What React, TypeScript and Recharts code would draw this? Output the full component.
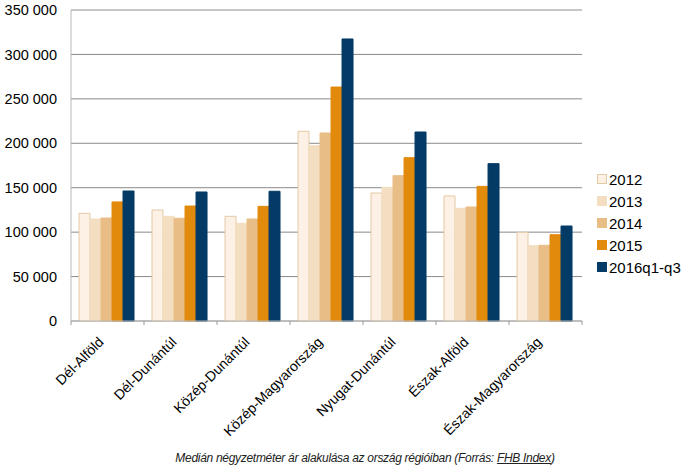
import React from "react";
import { BarChart, Bar, XAxis, YAxis, CartesianGrid, ReferenceLine } from "recharts";

const regions = [
  "Dél-Alföld",
  "Dél-Dunántúl",
  "Közép-Dunántúl",
  "Közép-Magyarország",
  "Nyugat-Dunántúl",
  "Észak-Alföld",
  "Észak-Magyarország",
];
const v2012 = [121200, 124900, 117800, 213500, 144000, 140700, 99800];
const v2013 = [114800, 117800, 110000, 197300, 150400, 126800, 84800];
const v2014 = [115900, 115600, 114800, 211600, 163600, 128300, 85200];
const v2015 = [134000, 129400, 129000, 263300, 183800, 151500, 97100];
const v2016 = [146300, 145200, 146000, 317400, 212700, 177100, 106900];
const seriesNames = ["2012", "2013", "2014", "2015", "2016q1-q3"];
const yTicks = [0, 50000, 100000, 150000, 200000, 250000, 300000, 350000];

const colors = ["#FCF1E4", "#F4DEC1", "#E9BD86", "#E28A0C", "#033B66"];
const strokes = ["#E4C9A6", "#F4DEC1", "#E9BD86", "#E28A0C", "#033B66"];

const data = regions.map((r, i) => ({
  region: r,
  s0: v2012[i],
  s1: v2013[i],
  s2: v2014[i],
  s3: v2015[i],
  s4: v2016[i],
}));

const font = "'Liberation Sans', Arial, sans-serif";

const fmt = (v: number) => String(v).replace(/\B(?=(\d{3})+(?!\d))/g, " ");

function RegionTick(props: any) {
  const { x, y, payload, index } = props;
  const off = payload.offset || 0;
  const axisY = y - 8;
  const tx = x - 3;
  const ty = y + 14;
  return (
    <g>
      <line x1={x - off} x2={x - off} y1={axisY} y2={axisY + 4} stroke="#999" />
      {index === regions.length - 1 && (
        <line x1={x + off} x2={x + off} y1={axisY} y2={axisY + 4} stroke="#999" />
      )}
      <text
        x={tx}
        y={ty}
        transform={`rotate(-45, ${tx}, ${ty})`}
        textAnchor="end"
        fontSize={14}
        fontFamily={font}
        fill="#000"
      >
        {payload.value}
      </text>
    </g>
  );
}

function LegendBox() {
  return (
    <div
      style={{
        position: "absolute",
        left: 597,
        top: 168,
        fontFamily: font,
        fontSize: 15,
        color: "#000",
      }}
    >
      {seriesNames.map((n, i) => (
        <div key={n} style={{ display: "flex", alignItems: "center", height: 22 }}>
          <span
            style={{
              display: "inline-block",
              width: 8,
              height: 8,
              background: colors[i],
              border: `1px solid ${strokes[i]}`,
              marginRight: 2,
            }}
          />
          <span>{n}</span>
        </div>
      ))}
    </div>
  );
}

export default function App() {
  return (
    <div
      style={{
        position: "absolute",
        left: 0,
        top: 0,
        width: 683,
        height: 471,
        background: "#fff",
        fontFamily: font,
      }}
    >
      <BarChart
        width={683}
        height={450}
        data={data}
        margin={{ top: 10, right: 101, left: 0, bottom: 0 }}
        barCategoryGap="11%"
        barGap={0}
      >
        <CartesianGrid vertical={false} stroke="#8a8a8a" />
        <ReferenceLine y={350000} stroke="#c8c8c8" />
        <XAxis
          dataKey="region"
          height={129}
          interval={0}
          axisLine={{ stroke: "#b8b8b8" }}
          tickLine={false}
          tick={<RegionTick />}
        />
        <YAxis
          width={71}
          domain={[0, 350000]}
          ticks={yTicks}
          tickFormatter={fmt}
          axisLine={{ stroke: "#b8b8b8" }}
          tickLine={false}
          tickSize={10}
          tickMargin={4}
          tick={{ fill: "#000", fontSize: 14.5, fontFamily: font }}
        />
        {seriesNames.map((n, i) => (
          <Bar
            key={n}
            dataKey={`s${i}`}
            name={n}
            fill={colors[i]}
            stroke={strokes[i]}
            strokeWidth={1}
            isAnimationActive={false}
          />
        ))}
      </BarChart>
      <LegendBox />
      <div
        style={{
          position: "absolute",
          left: 0,
          width: 730,
          top: 451,
          textAlign: "center",
          fontStyle: "italic",
          fontSize: 12,
          color: "#222",
          fontFamily: font,
          letterSpacing: -0.3,
        }}
      >
        Medián négyzetméter ár alakulása az ország régióiban (Forrás: <span style={{ textDecoration: "underline" }}>FHB Index</span>)
      </div>
    </div>
  );
}
